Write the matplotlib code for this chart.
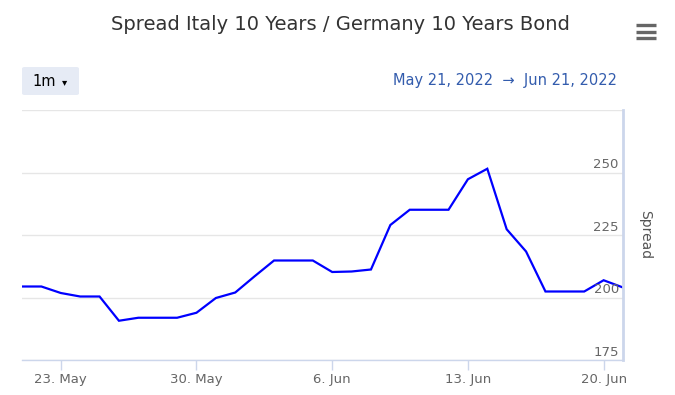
import numpy as np
import pandas as pd
import matplotlib
matplotlib.use("Agg")
import matplotlib.pyplot as plt
import matplotlib.dates as mdates
import matplotlib.transforms as mtransforms
from matplotlib.patches import FancyBboxPatch

# spread values, one per day starting May 21, 2022
start_date = "2022-05-21"
spread = [204.4, 204.4, 201.8, 200.4, 200.4, 190.7, 191.9, 191.9, 191.9, 193.9,
          199.8, 202.0, 208.5, 214.8, 214.8, 214.8, 210.2, 210.4, 211.2, 229.0,
          235.1, 235.1, 235.1, 247.3, 251.5, 227.3, 218.4, 202.4, 202.4, 202.4,
          206.9, 204.0]
dates = pd.date_range(start_date, periods=len(spread), freq="D")

xtick_dates = ["2022-05-23", "2022-05-30", "2022-06-06", "2022-06-13", "2022-06-20"]
yticks = [175, 200, 225, 250, 275]
ytick_labels = ["175", "200", "225", "250", ""]

title = "Spread Italy 10 Years / Germany 10 Years Bond"
range_text = "May 21, 2022  \u2192  Jun 21, 2022"

plt.rcParams['font.family'] = ['DejaVu Sans']
W, H = 675, 395
fig = plt.figure(figsize=(W / 100, H / 100), dpi=100)
ax = fig.add_axes([22 / W, 1 - 360 / H, (623 - 22) / W, (360 - 110) / H])

ax.plot(dates, spread, color="#0000ff", linewidth=1.6, solid_joinstyle="miter")

ax.set_xlim(dates[0], dates[-1])
ax.set_ylim(175, 275)

# grid
ax.set_yticks(yticks)
ax.yaxis.grid(True, color="#e6e6e6", linewidth=1)
ax.set_axisbelow(True)
ax.tick_params(axis="y", length=0, labelleft=False, labelright=False)

for s in ["left", "top"]:
    ax.spines[s].set_visible(False)
ax.spines["right"].set_color("#ccd6eb")
ax.spines["right"].set_linewidth(2)
ax.spines["bottom"].set_color("#ccd6eb")
ax.spines["bottom"].set_linewidth(1)

ax.set_xticks(pd.to_datetime(xtick_dates))
ax.xaxis.set_major_formatter(
    plt.FuncFormatter(lambda v, p: "%d. %s" % (mdates.num2date(v).day, mdates.num2date(v).strftime("%b"))))
ax.tick_params(axis="x", length=7.5, width=1, color="#ccd6eb", labelcolor="#666666",
               labelsize=9.5, pad=2)

# y labels inside the plot, right aligned above the grid lines
trans = mtransforms.blended_transform_factory(ax.transAxes, ax.transData)
for v, lab in zip(yticks, ytick_labels):
    ax.annotate(lab, xy=(1, v), xycoords=trans, xytext=(-3, 1), textcoords="offset points",
                ha="right", va="bottom", color="#666666", fontsize=9.5)

fig.text(645 / W, 1 - 235 / H, "Spread", rotation=270, ha="center", va="center",
         color="#555555", fontsize=10)

fig.text(340 / W, 1 - 25 / H, title, ha="center", va="center", color="#333333", fontsize=14)

# hamburger menu
for yy in [25, 31.5, 38]:
    fig.add_artist(plt.Line2D([636 / W, 656 / W], [1 - yy / H, 1 - yy / H], color="#666666",
                              linewidth=2.4, solid_capstyle="butt"))

# range selector button
btn = FancyBboxPatch((22 / W, 1 - 95 / H), 57 / W, 28 / H,
                     boxstyle="round,pad=0,rounding_size=0.004", transform=fig.transFigure,
                     facecolor="#e6ebf5", edgecolor="none")
fig.add_artist(btn)
fig.text(32 / W, 1 - 82 / H, "1m", ha="left", va="center", color="#000000", fontsize=10.5)
fig.text(62 / W, 1 - 82 / H, "\u25be", ha="left", va="center", color="#000000", fontsize=7.5)

fig.text(617 / W, 1 - 80 / H, range_text, ha="right", va="center", color="#335cad", fontsize=10.5)

fig.savefig("out.png", dpi=100)
